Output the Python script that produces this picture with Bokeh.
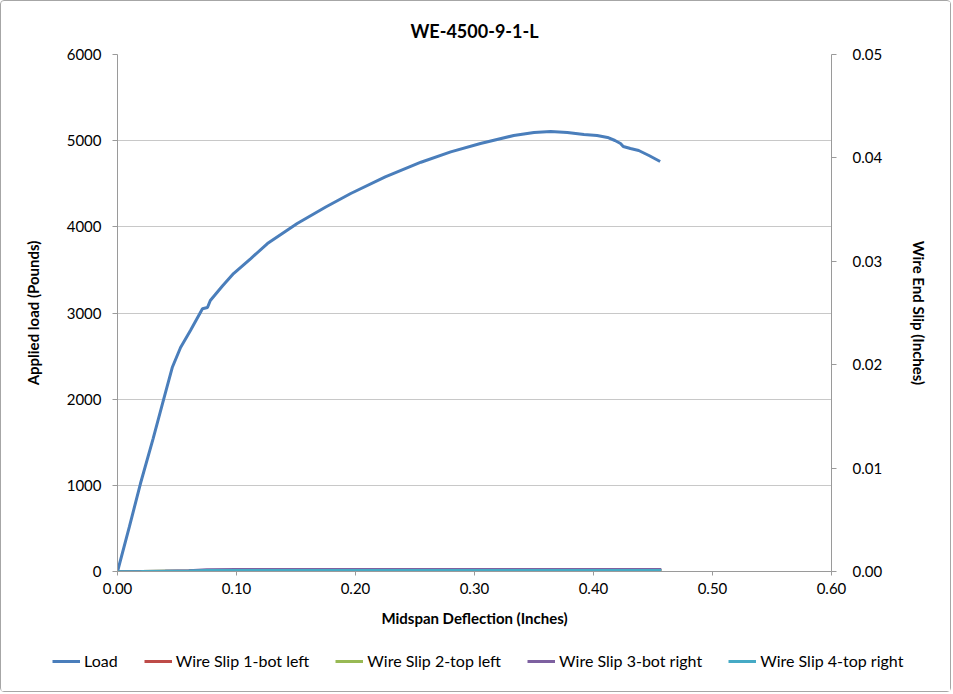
from bokeh.plotting import figure
from bokeh.layouts import column, row
from bokeh.models import Range1d, LinearAxis, Legend, LegendItem, NumeralTickFormatter, FixedTicker
from bokeh.embed import file_html
from bokeh.resources import INLINE

# ---- data ----
deflection = [0, 0.010, 0.0193, 0.030, 0.039, 0.046, 0.053, 0.0613, 0.0714, 0.0756, 0.078,
              0.088, 0.0975, 0.112, 0.126, 0.151, 0.175, 0.196, 0.225, 0.255, 0.280, 0.305,
              0.333, 0.350, 0.364, 0.378, 0.392, 0.403, 0.4118, 0.418, 0.4227, 0.425, 0.431,
              0.438, 0.447, 0.456]
load = [0, 520, 1021, 1545, 2010, 2367, 2600, 2797, 3050, 3064, 3145,
        3310, 3458, 3632, 3806, 4038, 4230, 4387, 4580, 4750, 4870, 4967,
        5060, 5095, 5106, 5095, 5071, 5060, 5037, 5002, 4967, 4932, 4909,
        4886, 4825, 4758]

slip_x = [0, 0.020, 0.040, 0.060, 0.075, 0.100, 0.200, 0.300, 0.400, 0.457]
slip1 = [0, 0.00002, 0.00005, 0.00008, 0.00012, 0.00013, 0.00013, 0.00013, 0.00013, 0.00013]
slip2 = [0, 0.00002, 0.00005, 0.00008, 0.00012, 0.00013, 0.00013, 0.00013, 0.00013, 0.00013]
slip3 = [0, 0.00003, 0.00006, 0.00010, 0.00020, 0.00021, 0.00021, 0.00021, 0.00021, 0.00021]
slip4 = [0, 0.00002, 0.00005, 0.00008, 0.00012, 0.00013, 0.00013, 0.00013, 0.00013, 0.00013]

series_names = ["Load", "Wire Slip 1-bot left", "Wire Slip 2-top left",
                "Wire Slip 3-bot right", "Wire Slip 4-top right"]
colors = ["#4a7ebb", "#be4b48", "#98b954", "#7d60a0", "#46aac5"]

x_ticks = [0, 0.1, 0.2, 0.3, 0.4, 0.5, 0.6]
y_ticks = [0, 1000, 2000, 3000, 4000, 5000, 6000]
y2_ticks = [0, 0.01, 0.02, 0.03, 0.04, 0.05]

FONT = "Lato"

p = figure(frame_width=714, frame_height=517,
           min_border_left=116, min_border_right=119, min_border_top=53, min_border_bottom=60,
           x_range=Range1d(0, 0.6), y_range=Range1d(0, 6000),
           output_backend="svg", toolbar_location=None,
           x_axis_label="Midspan Deflection (Inches)", y_axis_label="Applied load (Pounds)")
p.outline_line_color = None
p.background_fill_color = "white"
p.border_fill_color = "white"

p.title.text = "WE-4500-9-1-L"
p.title.align = "center"
p.title.text_font = FONT
p.title.text_font_size = "18px"
p.title.text_font_style = "bold"
p.title.text_color = "#000000"
p.title.standoff = 26

p.extra_y_ranges = {"slip": Range1d(0, 0.05)}
ax2 = LinearAxis(y_range_name="slip", axis_label="Wire End Slip (Inches)")
p.add_layout(ax2, "right")

for ax in [p.xaxis[0], p.yaxis[0], ax2]:
    ax.axis_line_color = "#9a9a9a"
    ax.major_tick_line_color = "#9a9a9a"
    ax.minor_tick_line_color = None
    ax.major_tick_in = 0
    ax.major_tick_out = 5
    ax.major_label_text_font = FONT
    ax.major_label_text_font_size = "15px"
    ax.major_label_text_color = "#000000"
    ax.axis_label_text_font = FONT
    ax.axis_label_text_font_size = "15px"
    ax.axis_label_text_font_style = "bold"
    ax.axis_label_text_color = "#000000"

p.xaxis[0].ticker = FixedTicker(ticks=x_ticks)
p.xaxis[0].formatter = NumeralTickFormatter(format="0.00")
p.xaxis[0].major_tick_out = 4
p.xaxis[0].major_label_standoff = 7
p.xaxis[0].axis_label_standoff = 12
p.yaxis[0].ticker = FixedTicker(ticks=y_ticks)
p.yaxis[0].formatter = NumeralTickFormatter(format="0")
p.yaxis[0].major_label_standoff = 11
p.yaxis[0].axis_label_standoff = 22
ax2.ticker = FixedTicker(ticks=y2_ticks)
ax2.formatter = NumeralTickFormatter(format="0.00")
ax2.major_label_standoff = 16
ax2.axis_label_standoff = 25

p.xgrid.grid_line_color = None
p.ygrid.grid_line_color = "#c8c8c8"
p.ygrid.ticker = FixedTicker(ticks=y_ticks)

p.line(deflection, load, line_color=colors[0], line_width=3)
p.line(slip_x, slip1, y_range_name="slip", line_color=colors[1], line_width=2.5)
p.line(slip_x, slip2, y_range_name="slip", line_color=colors[2], line_width=2.5)
p.line(slip_x, slip3, y_range_name="slip", line_color=colors[3], line_width=2.5)
p.line(slip_x, slip4, y_range_name="slip", line_color=colors[4], line_width=2.5)

# legend strip below the chart: its ranges hold none of the data, so only the legend shows
lg = figure(width=949, height=60, x_range=Range1d(10, 11), y_range=Range1d(10, 11),
            x_axis_location=None, y_axis_location=None,
            output_backend="svg", toolbar_location=None,
            min_border_left=0, min_border_right=0, min_border_top=0, min_border_bottom=0)
lg.grid.visible = False
lg.outline_line_color = None
lg.background_fill_color = "white"
lg.border_fill_color = "white"
leg_renderers = [lg.line(deflection, load, line_color=c, line_width=3) for c in colors]
legend = Legend(items=[LegendItem(label=n, renderers=[r]) for n, r in
                       zip(series_names, leg_renderers)],
                orientation="horizontal", location=(51, 21),
                label_text_font=FONT, label_text_font_size="16px", label_text_color="#000000",
                glyph_width=28, glyph_height=16, label_standoff=4, spacing=26,
                border_line_color=None, background_fill_alpha=0, margin=0, padding=0)
lg.add_layout(legend, "center")

layout = column(p, row(lg), spacing=0,
                styles={"border": "1px solid #a6a6a6", "border-radius": "4px"})

open("out.html", "w").write(file_html(layout, INLINE))
